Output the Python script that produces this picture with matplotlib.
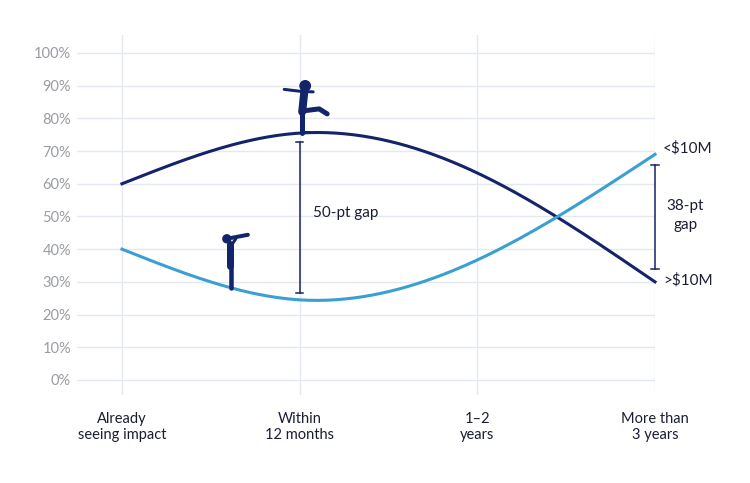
import matplotlib

matplotlib.use("Agg")

import matplotlib.pyplot as plt
import matplotlib.transforms as mtransforms
import numpy as np
from matplotlib.patches import Circle


CATEGORIES = ["Already\nseeing impact", "Within\n12 months", "1\u20132\nyears", "More than\n3 years"]
LARGE_CO = [60, 75.5, 63.3, 30]     # >$10M
SMALL_CO = [40, 24.5, 36.7, 69]     # <$10M
Y_TICKS = list(range(0, 101, 10))

GAP_NEAR = (26.6, 72.8)             # 50-pt gap bar, at "Within 12 months"
GAP_FAR = (34, 65.7)                # 38-pt gap bar, at "More than 3 years"

DARK = "#13246a"
LIGHT = "#3a9fd2"
GRID = "#e4e8ef"
TEXT = "#1b1d33"
TICK = "#9a9ca3"
FONT = ["Lato", "DejaVu Sans"]


def natural_spline(xs, ys, steps=80):
    """Dense points of a natural cubic spline through the data."""
    xs = np.asarray(xs, float)
    ys = np.asarray(ys, float)
    n = len(xs)
    h = np.diff(xs)
    A = np.zeros((n, n))
    b = np.zeros(n)
    A[0, 0] = A[-1, -1] = 1
    for i in range(1, n - 1):
        A[i, i - 1] = h[i - 1]
        A[i, i] = 2 * (h[i - 1] + h[i])
        A[i, i + 1] = h[i]
        b[i] = 6 * ((ys[i + 1] - ys[i]) / h[i] - (ys[i] - ys[i - 1]) / h[i - 1])
    M = np.linalg.solve(A, b)

    px, py = [], []
    for i in range(n - 1):
        xx = np.linspace(xs[i], xs[i + 1], steps)
        a = xs[i + 1] - xx
        c = xx - xs[i]
        yy = (M[i] * a ** 3 + M[i + 1] * c ** 3) / (6 * h[i]) \
            + (ys[i] / h[i] - M[i] * h[i] / 6) * a \
            + (ys[i + 1] / h[i] - M[i + 1] * h[i] / 6) * c
        px.append(xx if i == 0 else xx[1:])
        py.append(yy if i == 0 else yy[1:])
    return np.concatenate(px), np.concatenate(py)


def figure_transform(ax, x, y):
    # pixel offsets (y down) anchored at a data point
    return mtransforms.Affine2D().scale(1, -1) + mtransforms.ScaledTranslation(x, y, ax.transData)


def draw_kicker(ax, x, y):
    tr = figure_transform(ax, x, y)
    px = 0.72
    kw = dict(color=DARK, transform=tr, zorder=5, solid_capstyle="round", solid_joinstyle="round")
    ax.add_patch(Circle((2, -47), 5.2, color=DARK, transform=tr, zorder=5))
    ax.plot([1, -1], [-40, -21], lw=8 * px, **kw)
    ax.plot([-19, -2, 10], [-43.5, -41.5, -41], lw=3 * px, **kw)
    ax.plot([-1, -1], [-21, 0], lw=5 * px, **kw)
    ax.plot([0, 16, 24], [-22, -24, -19], lw=5 * px, **kw)
    ax.plot([-2, 6], [-0.5, -0.5], lw=3 * px, **kw)


def draw_watcher(ax, x, y):
    tr = figure_transform(ax, x, y)
    px = 0.72
    kw = dict(color=DARK, transform=tr, zorder=5, solid_capstyle="round", solid_joinstyle="round")
    ax.add_patch(Circle((-4, -49), 4, color=DARK, transform=tr, zorder=5))
    ax.plot([-1, -1], [-44, -22], lw=7 * px, **kw)
    ax.plot([0, 0], [-23, 0], lw=4.5 * px, **kw)
    ax.plot([1, 17], [-50, -53], lw=4 * px, **kw)
    ax.plot([0, 5], [-42, -49], lw=3 * px, **kw)


def main():
    plt.rcParams["font.family"] = FONT
    fig = plt.figure(figsize=(7.5, 4.83), dpi=100)
    ax = fig.add_axes([77 / 750, 88 / 483, 578 / 750, 360 / 483])

    x = np.arange(len(CATEGORIES))
    ax.set_xlim(-0.253, 3.0)
    ax.set_ylim(-4.6, 105.5)

    for v in Y_TICKS:
        ax.axhline(v, color=GRID, lw=1, zorder=1)
    for xi in x:
        ax.axvline(xi, color=GRID, lw=1, zorder=1)

    lx, ly = natural_spline(x, LARGE_CO)
    sx, sy = natural_spline(x, SMALL_CO)
    ax.plot(lx, ly, color=DARK, lw=2.2, zorder=3, clip_on=False)
    ax.plot(sx, sy, color=LIGHT, lw=2.2, zorder=3, clip_on=False)

    # gap bars
    for xi, (lo, hi) in [(1, GAP_NEAR), (3, GAP_FAR)]:
        ax.plot([xi, xi], [lo, hi], color=DARK, lw=1.1, zorder=4, clip_on=False)
        for v in (lo, hi):
            ax.plot([xi - 0.02, xi + 0.02], [v, v], color=DARK, lw=1.1, zorder=4, clip_on=False)

    ax.text(1.075, 51, "50-pt gap", color=TEXT, fontsize=11, ha="left", va="center")
    ax.text(3.17, 50.2, "38-pt\ngap", color=TEXT, fontsize=11, ha="center", va="center",
            linespacing=1.45, clip_on=False)
    ax.text(3.045, SMALL_CO[-1] + 1.8, "<$10M", color=TEXT, fontsize=11, ha="left",
            va="center", clip_on=False)
    ax.text(3.045, LARGE_CO[-1] + 0.5, ">$10M", color=TEXT, fontsize=11, ha="left",
            va="center", clip_on=False)

    kx = 1.02
    draw_kicker(ax, kx, float(np.interp(kx, lx, ly)))
    wx = 0.613
    draw_watcher(ax, wx, float(np.interp(wx, sx, sy)))

    ax.set_yticks(Y_TICKS)
    ax.set_yticklabels([f"{v}%" for v in Y_TICKS], color=TICK, fontsize=10.5)
    ax.set_xticks(x)
    ax.set_xticklabels(CATEGORIES, color=TEXT, fontsize=10.5, linespacing=1.25)
    ax.tick_params(axis="y", length=0, pad=4.3)
    ax.tick_params(axis="x", length=0, pad=12)
    for spine in ax.spines.values():
        spine.set_visible(False)

    fig.savefig("out.png", dpi=100, facecolor="white")
    plt.close(fig)


if __name__ == "__main__":
    main()
